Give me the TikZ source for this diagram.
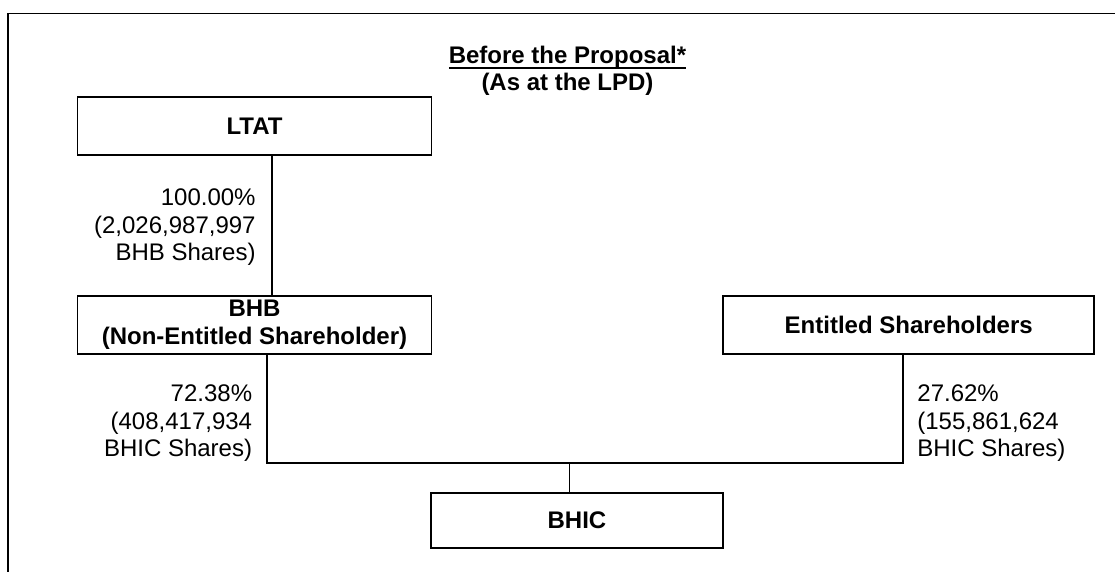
\documentclass[tikz,border=0pt]{standalone}
\usepackage{fontspec}
\setmainfont{Liberation Sans}
\usetikzlibrary{calc,positioning}
\newcommand{\titleul}[1]{\setbox0\hbox{#1}\rlap{\rule[-2.9pt]{\wd0}{0.9pt}}\box0}

\begin{document}
\begin{tikzpicture}[
      x=0.5pt,y=-0.5pt,
      txt/.style={font=\fontsize{12}{13.75}\selectfont},
      box/.style={draw,line width=0.85pt,inner sep=0,align=center,
        minimum height=29pt,font=\fontsize{12}{13.75}\selectfont\bfseries},
      share/.style={txt,inner sep=0},
      link/.style={line width=0.8pt},
    ]
    \useasboundingbox (0,0) rectangle (1115,572);
    \draw [line width=0.9pt] (8,572) -- (8,13.5) -- (1115,13.5);
    %
    \node (title) [box,draw=none,anchor=base] at (567.5,91)
      {\titleul{Before the Proposal*}\\(As at the LPD)};
    %
    \node (ltat) [box,minimum width=177pt] at (254.5,126) {LTAT};
    \node (bhb) [box,minimum width=177pt,below=69.5pt of ltat]
      {BHB\\(Non-Entitled Shareholder)};
    \node (ent) [box,minimum width=185.5pt,right=145pt of bhb]
      {Entitled Shareholders};
    \node (bhic) [box,minimum width=146pt,minimum height=27.8pt] at (577,520.5) {BHIC};
    %
    \coordinate (ltatout) at ($(ltat.south)+(17.5,0)$);
    \coordinate (bhbout) at ($(bhb.south)+(12.5,0)$);
    \coordinate (entout) at ($(ent.south)+(-5.5,0)$);
    \coordinate (bhicin) at ($(bhic.north)+(-7.5,0)$);
    \coordinate (bus) at (569.5,463);
    %
    \draw [link] (ltatout) -- (ltatout |- bhb.north);
    \draw [link] (bhbout) |- (bus) -| (entout);
    \draw [link] (bus) -- (bhicin);
    %
    \node (ltatpct) [share,align=right,anchor=base east] at (256,261)
      {100.00\%\\(2,026,987,997\\BHB Shares)};
    \node (bhbpct) [share,align=right,anchor=base east] at (252.5,457)
      {72.38\%\\(408,417,934\\BHIC Shares)};
    \node (entpct) [share,align=left,anchor=base west] at (917,457)
      {27.62\%\\(155,861,624\\BHIC Shares)};
    %
  \end{tikzpicture}
\end{document}
